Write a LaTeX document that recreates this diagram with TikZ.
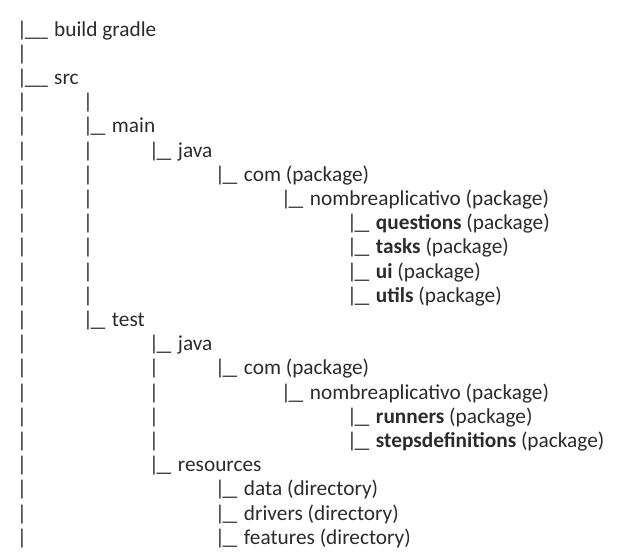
\documentclass[tikz,border=0pt]{standalone}
\usepackage{fontspec}
\usepackage{graphicx}
\setmainfont{Carlito}
\definecolor{ink}{HTML}{2B2B2B}
\tikzset{
  entry/.style={anchor=base west, inner sep=0pt, text=ink,
    font=\fontsize{21.3}{24}\selectfont}
}
\newcommand{\pkg}[1]{\textbf{#1}}
\newcommand{\trunk}{|\kern-2pt\scalebox{0.72}[1]{\_\_\_}\kern1.5pt\ }
\newcommand{\twig}{|\kern-2.5pt\scalebox{0.7}[1]{\_\_}\kern1.8pt\ }

\begin{document}
\begin{tikzpicture}[x=66pt, y=-24.2pt]
        \useasboundingbox (-17pt,36pt) rectangle (601pt,-522pt);
        % Vertical rails
        \foreach \k in {1,3,4,...,21}
          \node[entry] (r0-\k) at (0,\k) {|};
        \foreach \k in {3,5,6,...,11}
          \node[entry] (r1-\k) at (1,\k) {|};
        \foreach \k in {14,...,17}
          \node[entry] (r2-\k) at (2,\k) {|};

        % Top level
        \node[entry] (build) at (0,0) {\trunk build gradle};
        \node[entry] (src) at (0,2) {\trunk src};

        % main
        \node[entry] (main) at (1,4) {\twig main};
        \node[entry] (mainjava) at (2,5) {\twig java};
        \node[entry] (maincom) at (3,6) {\twig com (package)};
        \node[entry] (mainapp) at (4,7) {\twig nombreaplicativo (package)};
        \node[entry] (questions) at (5,8) {\twig \pkg{questions} (package)};
        \node[entry] (tasks) at (5,9) {\twig \pkg{tasks} (package)};
        \node[entry] (ui) at (5,10) {\twig \pkg{ui} (package)};
        \node[entry] (utils) at (5,11) {\twig \pkg{utils} (package)};

        % test
        \node[entry] (test) at (1,12) {\twig test};
        \node[entry] (testjava) at (2,13) {\twig java};
        \node[entry] (testcom) at (3,14) {\twig com (package)};
        \node[entry] (testapp) at (4,15) {\twig nombreaplicativo (package)};
        \node[entry] (runners) at (5,16) {\twig \pkg{runners} (package)};
        \node[entry] (steps) at (5,17) {\twig \pkg{stepsdefinitions} (package)};
        \node[entry] (resources) at (2,18) {\twig resources};
        \node[entry] (data) at (3,19) {\twig data (directory)};
        \node[entry] (drivers) at (3,20) {\twig drivers (directory)};
        \node[entry] (features) at (3,21) {\twig features (directory)};
    \end{tikzpicture}
\end{document}
